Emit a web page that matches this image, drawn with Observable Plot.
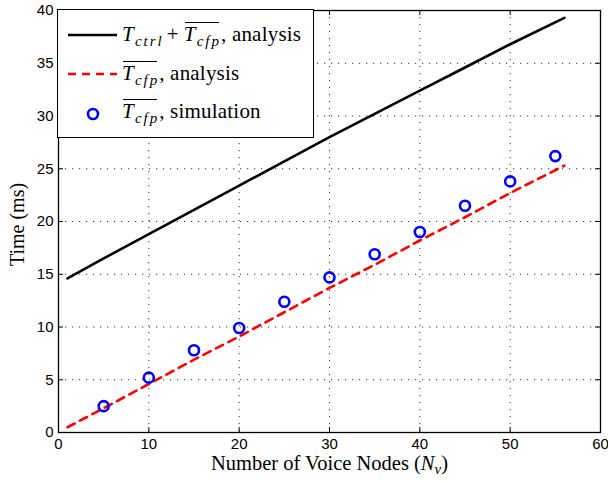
<!DOCTYPE html>
<html><head><meta charset="utf-8">
<script src="https://cdn.jsdelivr.net/npm/d3@7"></script>
<script src="https://cdn.jsdelivr.net/npm/@observablehq/plot@0.6"></script>
<style>
body{margin:0;background:#fff}
#wrap{position:relative;width:608px;height:481px}
.legend{position:absolute;left:57px;top:9px;width:257px;height:129px;border:1.3px solid #000;background:#fff;box-sizing:border-box}
.sample{position:absolute;left:66px}
.lab{position:absolute;left:122px;white-space:nowrap;line-height:21px;font-family:"Liberation Serif","DejaVu Serif",serif;font-size:21px;letter-spacing:0.2px;color:#000}
.lab i{font-family:"Liberation Serif","DejaVu Serif",serif}
.lab sub{font-size:15px;vertical-align:-5px;line-height:0;letter-spacing:2px;margin-left:1px}
.ov{position:relative}
.ov::before{content:"";position:absolute;left:1px;right:2px;top:0;border-top:1.3px solid #000}
.plus{margin:0 5px 0 3px}
</style>
</head><body>
<div id="wrap"></div>
<script>
// ---- data ----
const nodesLine = [1, 5, 10, 15, 20, 25, 30, 35, 40, 45, 50, 56];
const totalAnalysis = [14.6, 16.5, 18.8, 21.1, 23.4, 25.7, 28.0, 30.2, 32.4, 34.6, 36.8, 39.3];
const cfpAnalysis = [0.5, 2.3, 4.6, 6.9, 9.1, 11.4, 13.7, 15.9, 18.2, 20.4, 22.7, 25.3];
const nodesSim = [5, 10, 15, 20, 25, 30, 35, 40, 45, 50, 55];
const cfpSim = [2.5, 5.2, 7.8, 9.9, 12.4, 14.7, 16.9, 19.0, 21.5, 23.8, 26.2];
const xTicks = [0, 10, 20, 30, 40, 50, 60];
const yTicks = [0, 5, 10, 15, 20, 25, 30, 35, 40];

const totalRows = nodesLine.map((x, i) => ({x, y: totalAnalysis[i]}));
const cfpRows = nodesLine.map((x, i) => ({x, y: cfpAnalysis[i]}));
const simRows = nodesSim.map((x, i) => ({x, y: cfpSim[i]}));

const serif = "Liberation Serif, DejaVu Serif, serif";
const grid = {stroke: "#333", strokeDasharray: "1.2,5.8", strokeWidth: 1};
const tick = {stroke: "#000", strokeWidth: 1};
const W = 608, H = 481, mL = 58, mR = 8, mT = 10, mB = 49;
const fw = W - mL - mR, fh = H - mT - mB, tl = 5;

const plot = Plot.plot({
  width: W, height: H,
  marginLeft: mL, marginRight: mR, marginTop: mT, marginBottom: mB,
  x: {domain: [0, 60]},
  y: {domain: [0, 40]},
  style: {fontFamily: "Liberation Sans, Arial, sans-serif", fontSize: "15px", color: "#000", background: "#fff"},
  marks: [
    Plot.ruleX(xTicks, {x: d => d, ...grid}),
    Plot.ruleY(yTicks, {y: d => d, ...grid}),
    // inward ticks on all four sides
    Plot.ruleX(xTicks, {x: d => d, insetTop: fh - tl, ...tick}),
    Plot.ruleX(xTicks, {x: d => d, insetBottom: fh - tl, ...tick}),
    Plot.ruleY(yTicks, {y: d => d, insetRight: fw - tl, ...tick}),
    Plot.ruleY(yTicks, {y: d => d, insetLeft: fw - tl, ...tick}),
    Plot.axisX(xTicks, {anchor: "bottom", tickSize: 0, tickPadding: 6, label: null}),
    Plot.axisY(yTicks, {anchor: "left", tickSize: 0, tickPadding: 5, label: null}),
    Plot.frame({stroke: "#000", strokeWidth: 1.3}),
    Plot.line(totalRows, {x: "x", y: "y", stroke: "#000", strokeWidth: 2.6}),
    Plot.line(cfpRows, {x: "x", y: "y", stroke: "#ff0000", strokeWidth: 2.6, strokeDasharray: "8,6"}),
    Plot.dot(simRows, {x: "x", y: "y", r: 5, stroke: "#0000ff", strokeWidth: 2.6, fill: "none"}),
    Plot.text(["Time (ms)"], {text: d => d, frameAnchor: "left", textAnchor: "middle", lineAnchor: "middle", dx: -41, dy: 3, rotate: -90, fontFamily: serif, fontSize: 20}),
    Plot.text(["Number of Voice Nodes (Nv)"], {text: d => d, frameAnchor: "bottom", textAnchor: "middle", lineAnchor: "middle", dy: 30.5, fontFamily: serif, fontSize: 20.5})
  ]
});

// rich-text x label
d3.select(plot).selectAll("text").filter(function() { return this.textContent === "Number of Voice Nodes (Nv)"; })
  .each(function() {
    const t = d3.select(this);
    t.text(null);
    t.append("tspan").text("Number of Voice Nodes (");
    t.append("tspan").attr("font-style", "italic").text("N");
    t.append("tspan").attr("font-style", "italic").attr("font-size", 15).attr("dy", 4).text("v");
    t.append("tspan").attr("dy", -4).text(")");
  });

const wrap = document.getElementById("wrap");
wrap.appendChild(plot);

const legendHTML = `
  <div class="legend"></div>
  <svg class="sample" style="top:20px" width="54" height="30"><line x1="2" y1="15" x2="51" y2="15" stroke="#000" stroke-width="2.6"/></svg>
  <svg class="sample" style="top:59px" width="54" height="30"><line x1="2" y1="15" x2="51" y2="15" stroke="#ff0000" stroke-width="2.6" stroke-dasharray="8,6"/></svg>
  <svg class="sample" style="top:99px" width="54" height="30"><circle cx="27" cy="15" r="5" fill="none" stroke="#0000ff" stroke-width="2.6"/></svg>
  <div class="lab" style="top:24px"><i>T</i><sub><i>ctrl</i></sub><span class="plus">+</span><span class="ov"><i>T</i><sub><i>cfp</i></sub></span>, analysis</div>
  <div class="lab" style="top:63px"><span class="ov"><i>T</i><sub><i>cfp</i></sub></span>, analysis</div>
  <div class="lab" style="top:101px"><span class="ov"><i>T</i><sub><i>cfp</i></sub></span>, simulation</div>`;
wrap.insertAdjacentHTML("beforeend", legendHTML);
</script>
</body></html>
